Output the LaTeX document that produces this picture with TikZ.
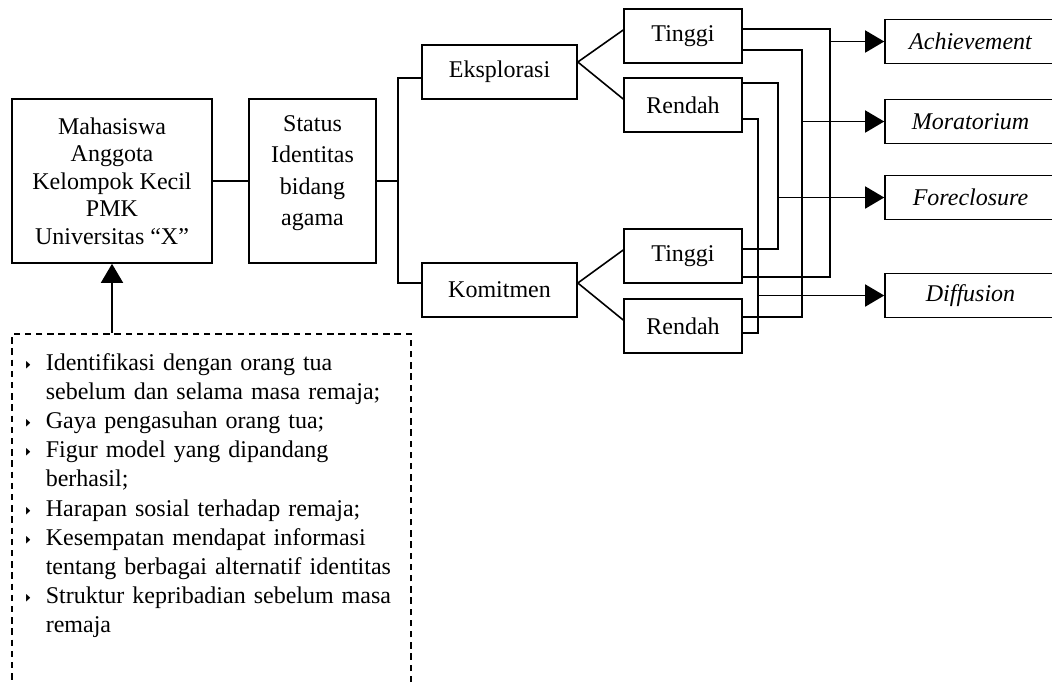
\documentclass[tikz,border=0pt]{standalone}
\usepackage{fontspec}
\setmainfont{Liberation Serif}
\usepackage{amssymb}
\usepackage{graphicx}
\usetikzlibrary{arrows.meta}

\newenvironment{butir}{%
  \begin{list}{\raisebox{1pt}{\resizebox{2.6pt}{3.6pt}{$\blacktriangleright$}}}{%
    \setlength\leftmargin{14pt}\setlength\labelwidth{3pt}%
    \setlength\labelsep{7.5pt}\setlength\itemsep{0pt}%
    \setlength\parsep{0pt}\setlength\topsep{0pt}}}%
  {\end{list}}

\begin{document}
\begin{tikzpicture}[x=0.5pt, y=-0.5pt, line width=0.8pt,
  kotak/.style={draw, align=center, inner sep=0pt, font=\fontsize{12pt}{13.75pt}\selectfont},
  kecil/.style={kotak, minimum width=59pt, minimum height=27pt},
  hasil/.style={kotak, minimum width=85.5pt, minimum height=22pt, font=\fontsize{12pt}{13.75pt}\selectfont\itshape},
  panah/.style={-{Triangle[length=9.5pt, width=11pt]}}]
\useasboundingbox (0,0) rectangle (1052,682);
\node[kotak, minimum width=100pt, minimum height=82pt] (mhs) at (112,181) {Mahasiswa\\Anggota\\Kelompok Kecil\\PMK\\Universitas “X”};
\node[kotak, minimum width=63.5pt, minimum height=82pt, text depth=10.5pt, font=\fontsize{12pt}{15.8pt}\selectfont] (status) at (312.5,181) {Status\\Identitas\\bidang\\agama};
\draw (mhs) -- (status);
\node[kotak, minimum width=77.5pt, minimum height=27pt] (eksp) at (499.5,72) {Eksplorasi};
\node[kotak, minimum width=77.5pt, minimum height=27pt] (komit) at (499.5,290) {Komitmen};
\coordinate (cab) at (398,181);
\draw (status) -- (cab);
\draw ([yshift=-3pt]eksp.west) -| (cab) |- ([yshift=3.5pt]komit.west);
\node[kecil] (tA) at (683,36) {Tinggi};
\node[kecil] (rA) at (683,105) {Rendah};
\node[kecil] (tB) at (683,256) {Tinggi};
\node[kecil] (rB) at (683,326) {Rendah};
\draw ([yshift=3pt]tA.west) -- ([yshift=5pt]eksp.east) -- ([yshift=3pt]rA.west);
\draw ([yshift=3pt]tB.west) -- ([yshift=3.5pt]komit.east) -- ([yshift=3pt]rB.west);
\node[hasil] (achv) at (970.5,41.5) {Achievement};
\node[hasil] (mora) at (970.5,121.5) {Moratorium};
\node[hasil] (fore) at (970.5,197.5) {Foreclosure};
\node[hasil] (diff) at (970.5,295.5) {Diffusion};
\coordinate (vA) at (830,41.5);
\coordinate (vB) at (802,121.5);
\coordinate (vC) at (778,197.5);
\coordinate (vD) at (758,295.5);
\draw ([yshift=3.5pt]tA.east) -| (vA) |- ([yshift=-10.5pt]tB.east);
\draw ([yshift=-7pt]tA.east) -| (vB) |- ([yshift=4.5pt]rB.east);
\draw ([yshift=11pt]rA.east) -| (vC) |- ([yshift=3.5pt]tB.east);
\draw ([yshift=-7pt]rA.east) -| (vD) |- ([yshift=-3.5pt]rB.east);
\draw[panah] (vA) -- (achv);
\draw[panah] (vB) -- (mora);
\draw[panah] (vC) -- (fore);
\draw[panah] (vD) -- (diff);
\node[draw, dash pattern=on 3.2pt off 2.4pt, minimum width=199.5pt, minimum height=193pt] (faktor) at (211.5,527) {};
\draw[panah] (faktor.north -| mhs.south) -- (mhs.south);
\node[anchor=north west, inner sep=0pt, text width=190pt, font=\fontsize{12pt}{14.6pt}\selectfont] (daftar) at (17,340) {%
\begin{butir}
\item Identifikasi dengan orang tua\\sebelum dan selama masa remaja;
\item Gaya pengasuhan orang tua;
\item Figur model yang dipandang\\berhasil;
\item Harapan sosial terhadap remaja;
\item Kesempatan mendapat informasi\\tentang berbagai alternatif identitas
\item Struktur kepribadian sebelum masa\\remaja
\end{butir}};
\end{tikzpicture}
\end{document}
